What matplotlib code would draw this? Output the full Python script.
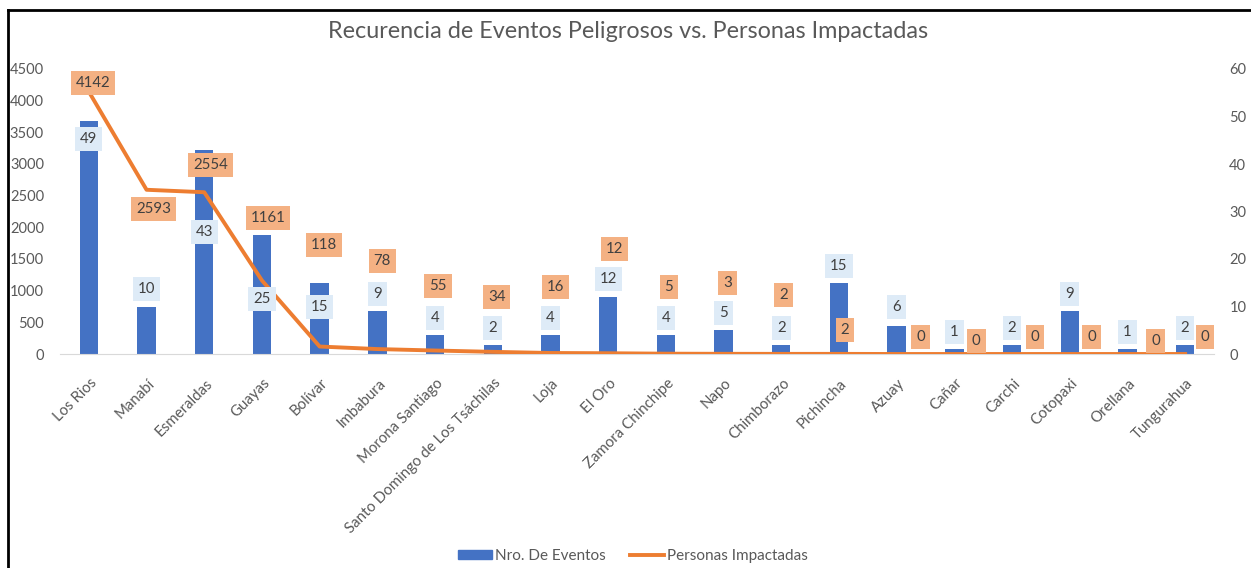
import numpy as np
import matplotlib.pyplot as plt
from matplotlib.lines import Line2D
from matplotlib.patches import Patch
from matplotlib.transforms import ScaledTranslation

plt.rcParams['font.family'] = ['Lato', 'DejaVu Sans']

provincias = ['Los Rios', 'Manabí', 'Esmeraldas', 'Guayas', 'Bolívar', 'Imbabura',
              'Morona Santiago', 'Santo Domingo de Los Tsáchilas', 'Loja', 'El Oro',
              'Zamora Chinchipe', 'Napo', 'Chimborazo', 'Pichincha', 'Azuay', 'Cañar',
              'Carchi', 'Cotopaxi', 'Orellana', 'Tungurahua']
eventos = [49, 10, 43, 25, 15, 9, 4, 2, 4, 12, 4, 5, 2, 15, 6, 1, 2, 9, 1, 2]
personas = [4142, 2593, 2554, 1161, 118, 78, 55, 34, 16, 12, 5, 3, 2, 2, 0, 0, 0, 0, 0, 0]

# label placement (events axis units / persons axis units, x shift in px)
ev_label_y = [45.3, 13.7, 25.7, 11.6, 9.9, 12.6, 7.6, 5.5, 7.6, 15.8,
              7.6, 8.6, 5.5, 18.5, 9.9, 4.6, 5.5, 12.6, 4.6, 5.5]
pp_label_y = [4279, 2289, 2984, 2147, 1721, 1468, 1074, 900, 1058, 1658,
              1058, 1121, 932, 379, 268, 205, 268, 268, 205, 268]
pp_label_dx = [4, 7, 6, 6, 4, 5, 3, 4, 5, 6, 3, 4, 2, 6, 24, 22, 23, 22, 28, 20]

AZUL = '#4472C4'
NARANJA = '#ED7D31'
GRIS = '#595959'

fig = plt.figure(figsize=(12.51, 5.68), dpi=100)
ax_ev = fig.add_axes([60/1251, 1 - 354/568, 1154/1251, 285/568])
ax_pp = ax_ev.twinx()

x = np.arange(len(provincias))
ax_ev.bar(x, eventos, width=0.32, color=AZUL)
ax_pp.plot(x, personas, color=NARANJA, lw=2.8, solid_joinstyle='round')

ax_ev.set_xlim(-0.5, len(provincias) - 0.5)
ax_ev.set_ylim(0, 60)
ax_pp.set_ylim(0, 4500)
ax_ev.yaxis.tick_right()
ax_pp.yaxis.tick_left()
ax_ev.set_yticks(range(0, 61, 10))
ax_pp.set_yticks(range(0, 4501, 500))
ax_ev.tick_params(axis='y', length=0, pad=11, labelsize=10.5, labelcolor=GRIS)
ax_pp.tick_params(axis='y', length=0, pad=11.5, labelsize=10.5, labelcolor=GRIS)

ax_ev.set_xticks(x, provincias, rotation=45, ha='right', rotation_mode='anchor')
ax_ev.tick_params(axis='x', length=0, pad=8, labelsize=10.8, labelcolor=GRIS)
shift = ScaledTranslation(1/100, -11/100, fig.dpi_scale_trans)
for lab in ax_ev.get_xticklabels():
    lab.set_transform(lab.get_transform() + shift)

for a in (ax_ev, ax_pp):
    for s in a.spines.values():
        s.set_visible(False)
ax_ev.spines['bottom'].set_visible(True)
ax_ev.spines['bottom'].set_color('#D9D9D9')

# data labels
for i in x:
    ax_pp.annotate(str(eventos[i]), xy=(i, ev_label_y[i]), xycoords=ax_ev.transData,
                   ha='center', va='center', fontsize=10.8, color='#404040', zorder=5,
                   bbox=dict(boxstyle='square,pad=0.33', fc='#DEEBF7', ec='none'))
    ax_pp.annotate(str(personas[i]), xy=(i, pp_label_y[i]), xytext=(pp_label_dx[i], 0),
                   textcoords='offset pixels', ha='center', va='center', fontsize=10.8,
                   color='#404040', zorder=5,
                   bbox=dict(boxstyle='square,pad=0.33', fc='#F4B183', ec='none'))

fig.text(0.502, 1 - 31/568, 'Recurencia de Eventos Peligrosos vs. Personas Impactadas',
         ha='center', va='center', fontsize=16.8, color=GRIS)

handles = [Patch(color=AZUL), Line2D([], [], color=NARANJA, lw=2.8)]
fig.legend(handles, ['Nro. De Eventos', 'Personas Impactadas'], loc='center',
           bbox_to_anchor=(0.506, 1 - 556/568), ncol=2, frameon=False, fontsize=11,
           labelcolor=GRIS, handlelength=2.2, handleheight=0.6, columnspacing=1.6,
           handletextpad=0.2)

# outer border (left and top only visible)
fig.add_artist(Line2D([8/1251, 8/1251], [0, 1 - 10/568], color='black', lw=2))
fig.add_artist(Line2D([8/1251, 1], [1 - 10/568, 1 - 10/568], color='black', lw=2))

fig.savefig('out.png', dpi=100)
